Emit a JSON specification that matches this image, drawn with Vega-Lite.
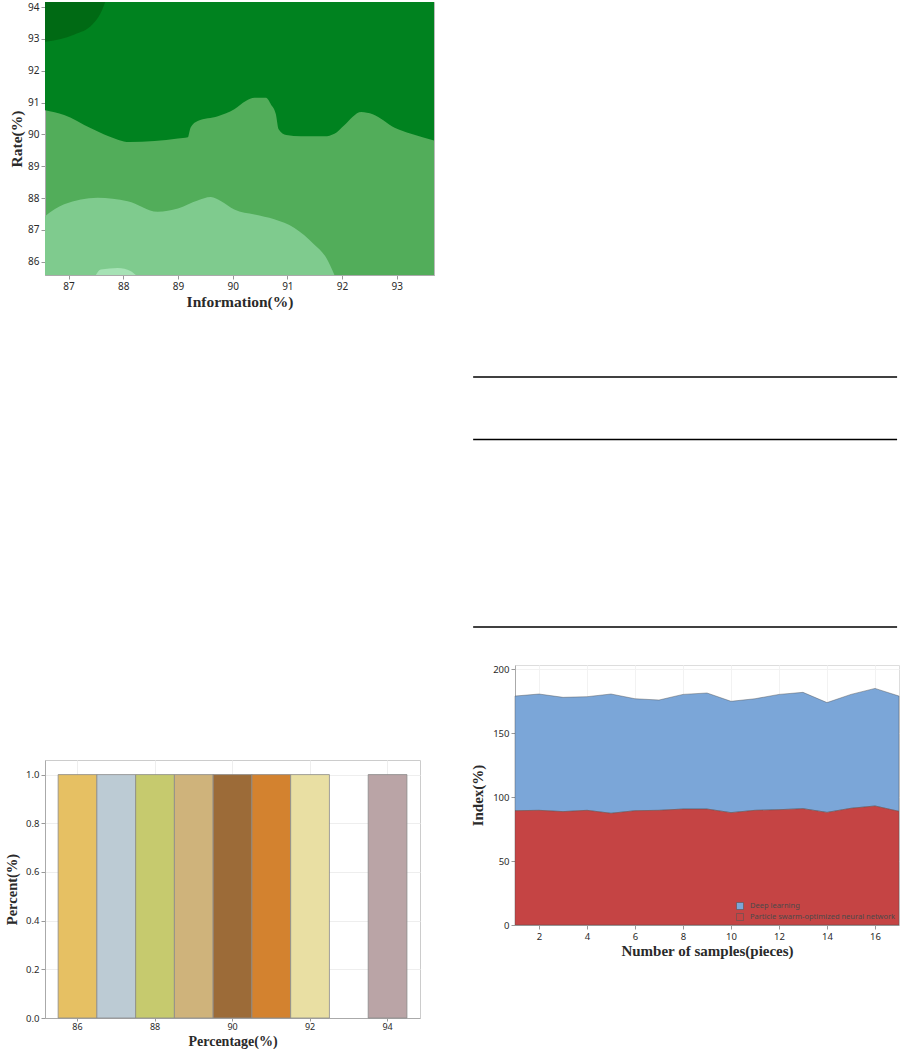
{
  "$schema": "https://vega.github.io/schema/vega-lite/v6.json",
  "padding": {"left": 4, "top": 1, "right": 0, "bottom": 0},
  "background": "white",
  "config": {
    "font": "Noto Sans",
    "axis": {
      "labelFont": "Noto Sans",
      "labelColor": "#2a2a2a",
      "titleFont": "Liberation Serif",
      "titleFontWeight": "bold",
      "titleColor": "#2a2a2a",
      "tickColor": "#999999",
      "domainColor": "#aaaaaa",
      "tickSize": 4,
      "labelPadding": 2,
      "gridColor": "#eeeeee"
    }
  },
  "datasets": {
    "contourDark": [
      {"information": 86.57, "rate": 90.76}, {"information": 86.92, "rate": 90.61}, {"information": 87.41, "rate": 90.19},
      {"information": 87.72, "rate": 89.95}, {"information": 88.11, "rate": 89.76}, {"information": 88.57, "rate": 89.79},
      {"information": 89.0, "rate": 89.87}, {"information": 89.18, "rate": 89.91}, {"information": 89.23, "rate": 90.21},
      {"information": 89.36, "rate": 90.42}, {"information": 89.73, "rate": 90.57}, {"information": 90.03, "rate": 90.79},
      {"information": 90.24, "rate": 91.05}, {"information": 90.4, "rate": 91.15}, {"information": 90.61, "rate": 91.15},
      {"information": 90.7, "rate": 90.94}, {"information": 90.79, "rate": 90.63}, {"information": 90.84, "rate": 90.16},
      {"information": 90.98, "rate": 89.98}, {"information": 91.25, "rate": 89.94}, {"information": 91.68, "rate": 89.94},
      {"information": 91.86, "rate": 90.02}, {"information": 92.04, "rate": 90.29}, {"information": 92.35, "rate": 90.7},
      {"information": 92.56, "rate": 90.63}, {"information": 92.96, "rate": 90.21}, {"information": 93.26, "rate": 90.02},
      {"information": 93.68, "rate": 89.81}
    ],
    "contourDarkest": [
      {"information": 86.57, "rate": 92.91}, {"information": 87.11, "rate": 93.14}, {"information": 87.44, "rate": 93.46},
      {"information": 87.59, "rate": 93.82}, {"information": 87.67, "rate": 94.16}
    ],
    "contourLight": [
      {"information": 86.57, "rate": 87.43}, {"information": 86.92, "rate": 87.8}, {"information": 87.53, "rate": 88.01},
      {"information": 88.08, "rate": 87.9}, {"information": 88.63, "rate": 87.57}, {"information": 89.0, "rate": 87.67},
      {"information": 89.36, "rate": 87.92}, {"information": 89.6, "rate": 88.03}, {"information": 89.79, "rate": 87.9},
      {"information": 90.03, "rate": 87.64}, {"information": 90.4, "rate": 87.48}, {"information": 90.76, "rate": 87.33},
      {"information": 91.13, "rate": 87.06}, {"information": 91.49, "rate": 86.54}, {"information": 91.71, "rate": 86.12},
      {"information": 91.86, "rate": 85.58}
    ],
    "contourLightest": [
      {"information": 87.5, "rate": 85.58}, {"information": 87.59, "rate": 85.75}, {"information": 87.9, "rate": 85.8},
      {"information": 88.14, "rate": 85.7}, {"information": 88.23, "rate": 85.58}
    ],
    "bars": [
      {"percentage": 86, "bin_start": 85.5, "bin_end": 86.5, "percent": 1.0},
      {"percentage": 87, "bin_start": 86.5, "bin_end": 87.5, "percent": 1.0},
      {"percentage": 88, "bin_start": 87.5, "bin_end": 88.5, "percent": 1.0},
      {"percentage": 89, "bin_start": 88.5, "bin_end": 89.5, "percent": 1.0},
      {"percentage": 90, "bin_start": 89.5, "bin_end": 90.5, "percent": 1.0},
      {"percentage": 91, "bin_start": 90.5, "bin_end": 91.5, "percent": 1.0},
      {"percentage": 92, "bin_start": 91.5, "bin_end": 92.5, "percent": 1.0},
      {"percentage": 94, "bin_start": 93.5, "bin_end": 94.5, "percent": 1.0}
    ],
    "samples": [
      {"sample": 1, "method": "Deep learning", "index": 89.7}, {"sample": 1, "method": "Particle swarm-optimized neural network", "index": 89.4},
      {"sample": 2, "method": "Deep learning", "index": 91.0}, {"sample": 2, "method": "Particle swarm-optimized neural network", "index": 89.7},
      {"sample": 3, "method": "Deep learning", "index": 89.4}, {"sample": 3, "method": "Particle swarm-optimized neural network", "index": 88.7},
      {"sample": 4, "method": "Deep learning", "index": 88.9}, {"sample": 4, "method": "Particle swarm-optimized neural network", "index": 89.7},
      {"sample": 5, "method": "Deep learning", "index": 93.3}, {"sample": 5, "method": "Particle swarm-optimized neural network", "index": 87.4},
      {"sample": 6, "method": "Deep learning", "index": 87.6}, {"sample": 6, "method": "Particle swarm-optimized neural network", "index": 89.4},
      {"sample": 7, "method": "Deep learning", "index": 86.3}, {"sample": 7, "method": "Particle swarm-optimized neural network", "index": 89.7},
      {"sample": 8, "method": "Deep learning", "index": 89.7}, {"sample": 8, "method": "Particle swarm-optimized neural network", "index": 90.7},
      {"sample": 9, "method": "Deep learning", "index": 90.8}, {"sample": 9, "method": "Particle swarm-optimized neural network", "index": 90.7},
      {"sample": 10, "method": "Deep learning", "index": 87.1}, {"sample": 10, "method": "Particle swarm-optimized neural network", "index": 87.9},
      {"sample": 11, "method": "Deep learning", "index": 87.3}, {"sample": 11, "method": "Particle swarm-optimized neural network", "index": 89.7},
      {"sample": 12, "method": "Deep learning", "index": 90.2}, {"sample": 12, "method": "Particle swarm-optimized neural network", "index": 90.2},
      {"sample": 13, "method": "Deep learning", "index": 91.0}, {"sample": 13, "method": "Particle swarm-optimized neural network", "index": 91.0},
      {"sample": 14, "method": "Deep learning", "index": 85.9}, {"sample": 14, "method": "Particle swarm-optimized neural network", "index": 88.1},
      {"sample": 15, "method": "Deep learning", "index": 89.1}, {"sample": 15, "method": "Particle swarm-optimized neural network", "index": 91.3},
      {"sample": 16, "method": "Deep learning", "index": 92.0}, {"sample": 16, "method": "Particle swarm-optimized neural network", "index": 93.1},
      {"sample": 17, "method": "Deep learning", "index": 90.2}, {"sample": 17, "method": "Particle swarm-optimized neural network", "index": 88.9}
    ],
    "tableRules": [
      {"rule": "top", "row": 0},
      {"rule": "header", "row": 1},
      {"rule": "bottom", "row": 4}
    ]
  },
  "resolve": {"scale": {"color": "independent"}},
  "spacing": 35,
  "hconcat": [
    {
      "vconcat": [
        {
          "width": 389,
          "height": 273,
          "view": {"fill": "#52ad5a", "stroke": "#bbbbbb"},
          "encoding": {
            "x": {
              "field": "information", "type": "quantitative",
              "scale": {"domain": [86.57, 93.68], "nice": false, "zero": false},
              "axis": {"values": [87, 88, 89, 90, 91, 92, 93], "title": "Information(%)", "grid": false, "labelFontSize": 10, "titleFontSize": 15.5, "titlePadding": 3}
            },
            "y": {
              "field": "rate", "type": "quantitative",
              "scale": {"domain": [85.58, 94.16], "nice": false, "zero": false},
              "axis": {"values": [86, 87, 88, 89, 90, 91, 92, 93, 94], "title": "Rate(%)", "grid": false, "labelFontSize": 10, "titleFontSize": 15.5, "titlePadding": 3}
            }
          },
          "layer": [
            {
              "data": {"name": "contourDark"},
              "mark": {"type": "area", "interpolate": "monotone", "color": "#00821f", "opacity": 1, "clip": true},
              "encoding": {"y2": {"datum": 94.16}}
            },
            {
              "data": {"name": "contourDarkest"},
              "mark": {"type": "area", "interpolate": "monotone", "color": "#006a14", "opacity": 1, "clip": true},
              "encoding": {"y2": {"datum": 94.16}}
            },
            {
              "data": {"name": "contourLight"},
              "mark": {"type": "area", "interpolate": "monotone", "color": "#7fcb8e", "opacity": 1, "clip": true},
              "encoding": {"y2": {"datum": 85.58}}
            },
            {
              "data": {"name": "contourLightest"},
              "mark": {"type": "area", "interpolate": "monotone", "color": "#a6e2b5", "opacity": 1, "clip": true},
              "encoding": {"y2": {"datum": 85.58}}
            }
          ]
        },
        {
          "width": 375,
          "height": 258,
          "data": {"name": "bars"},
          "view": {"stroke": "#cccccc"},
          "mark": {"type": "bar", "stroke": "#8a8a8a", "strokeWidth": 0.8, "binSpacing": 0, "opacity": 1},
          "encoding": {
            "x": {
              "field": "bin_start", "type": "quantitative", "bin": {"binned": true, "step": 1},
              "scale": {"domain": [85.174, 94.85], "nice": false, "zero": false},
              "axis": {"values": [86, 88, 90, 92, 94], "format": "d", "title": "Percentage(%)", "grid": true, "labelFontSize": 9, "titleFontSize": 14, "tickSize": 3, "labelPadding": 1, "titlePadding": 3}
            },
            "x2": {"field": "bin_end"},
            "y": {
              "field": "percent", "type": "quantitative",
              "scale": {"domain": [0, 1.06], "nice": false},
              "axis": {"values": [0, 0.2, 0.4, 0.6, 0.8, 1.0], "format": ".1f", "title": "Percent(%)", "grid": true, "labelFontSize": 9.5, "titleFontSize": 14.5, "titlePadding": 6}
            },
            "color": {
              "field": "percentage", "type": "nominal",
              "scale": {
                "domain": [86, 87, 88, 89, 90, 91, 92, 94],
                "range": ["#e6c063", "#bccbd4", "#c6ca6e", "#cfb37b", "#9c6b38", "#d3822f", "#e9dfa3", "#baa4a6"]
              },
              "legend": null
            }
          }
        }
      ],
      "spacing": 449,
      "resolve": {"scale": {"color": "independent"}}
    },
    {
      "vconcat": [
        {
          "width": 384,
          "height": 625,
          "data": {"name": "tableRules"},
          "view": {"stroke": null},
          "mark": {"type": "rule", "color": "#000000", "strokeWidth": 1.3},
          "encoding": {
            "y": {"field": "row", "type": "quantitative", "scale": {"domain": [-6, 4], "reverse": true, "nice": false, "zero": false}, "axis": null},
            "x": {"datum": -0.109, "type": "quantitative", "scale": {"domain": [0, 1], "nice": false, "zero": false}, "axis": null},
            "x2": {"datum": 0.995}
          }
        },
        {
          "width": 384,
          "height": 260,
          "data": {"name": "samples"},
          "view": {"stroke": "#dddddd"},
          "mark": {"type": "area", "stroke": "#4d4d4d", "strokeWidth": 0.7, "strokeOpacity": 0.6, "opacity": 1},
          "encoding": {
            "x": {
              "field": "sample", "type": "quantitative",
              "scale": {"domain": [1, 17], "nice": false, "zero": false},
              "axis": {"values": [2, 4, 6, 8, 10, 12, 14, 16], "title": "Number of samples(pieces)", "grid": true, "gridColor": "#f2f2f2", "labelFontSize": 9.5, "titleFontSize": 15, "titlePadding": 3}
            },
            "y": {
              "field": "index", "type": "quantitative", "stack": "zero",
              "scale": {"domain": [0, 203.4], "nice": false},
              "axis": {"values": [0, 50, 100, 150, 200], "title": "Index(%)", "grid": true, "gridColor": "#f2f2f2", "labelFontSize": 9.5, "titleFontSize": 15, "titlePadding": 7}
            },
            "color": {
              "field": "method", "type": "nominal",
              "scale": {"domain": ["Deep learning", "Particle swarm-optimized neural network"], "range": ["#7ba6d8", "#c54444"]},
              "legend": {
                "orient": "bottom-right", "title": null, "offset": 3, "padding": 0,
                "labelFontSize": 7.5, "labelColor": "#4a4a4a", "labelFont": "Noto Sans", "labelLimit": 300,
                "symbolType": "square", "symbolSize": 49, "symbolStrokeColor": "#555555", "symbolStrokeWidth": 0.6,
                "rowPadding": 1, "labelOffset": 6
              }
            },
            "order": {"field": "method", "sort": "descending"}
          }
        }
      ],
      "spacing": 35,
      "resolve": {"scale": {"color": "independent"}}
    }
  ]
}
